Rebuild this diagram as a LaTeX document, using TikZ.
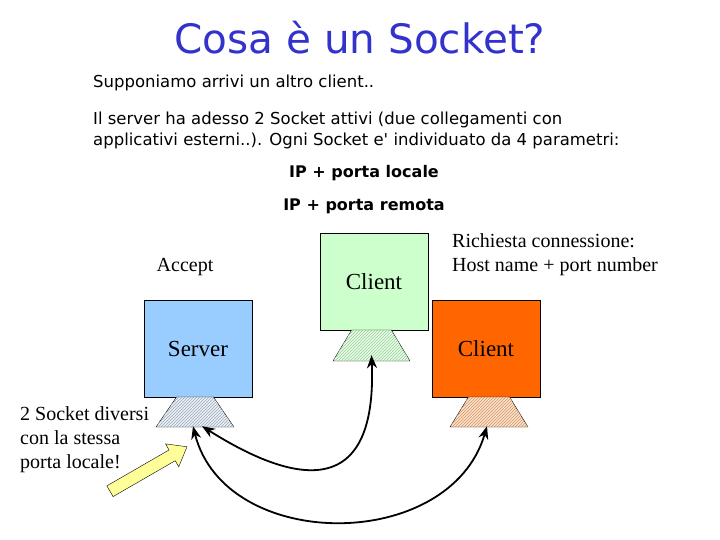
\documentclass[tikz,border=0pt]{standalone}
\usepackage{fontspec}
\setmainfont{Liberation Serif}
\newfontfamily\comicfont{DejaVu Sans}
\usetikzlibrary{arrows.meta}
\usetikzlibrary{positioning}
\usetikzlibrary{shapes.geometric}
\usetikzlibrary{shapes.arrows}
\usetikzlibrary{patterns}

\definecolor{titleblue}{RGB}{51,51,204}
\definecolor{serverblue}{RGB}{153,204,255}
\definecolor{clientgreen}{RGB}{204,255,204}
\definecolor{clientorange}{RGB}{255,102,0}
\definecolor{hintyellow}{RGB}{255,255,153}

\begin{document}
\begin{tikzpicture}[x=1pt,y=-1pt,
    host/.style={draw,rectangle,minimum width=108pt,minimum height=97pt,
                 font=\fontsize{23}{26}\selectfont},
    sock/.style={draw,trapezium,trapezium stretches=true,inner sep=2pt,
                 minimum height=30pt,minimum width=78pt},
    link/.style={line width=1.8pt,{Stealth[length=13pt,width=10pt]}-{Stealth[length=13pt,width=10pt]}}]
\useasboundingbox (0,0) rectangle (720,540);

% testi in alto
\begin{scope}[every node/.style={font=\comicfont\fontsize{16.5}{21}\selectfont,inner sep=0pt}]
    \node[font=\comicfont\fontsize{40.5}{44}\selectfont,text=titleblue] (title) at (360,38) {Cosa è un Socket?};
    \node[anchor=west]            (intro)  at (93,83)    {Supponiamo arrivi un altro client..};
    \node[anchor=west,align=left] (params) at (93,130.5) {Il server ha adesso 2 Socket attivi (due collegamenti con\\applicativi esterni..). Ogni Socket e' individuato da 4 parametri:};
    \node[font=\comicfont\bfseries\fontsize{16}{21}\selectfont] (local)  at (364,173) {IP + porta locale};
    \node[font=\comicfont\bfseries\fontsize{16}{21}\selectfont] (remote) at (364,206) {IP + porta remota};
\end{scope}

% host e socket
\node[host,fill=serverblue]   (server)     at (198,348.5) {Server};
\node[host,fill=clientgreen]  (client_old) at (374,281.5) {\raisebox{-5pt}{Client}};
\node[host,fill=clientorange] (client_new) at (486,348.5) {Client};

\node[sock,trapezium angle=61,fill=serverblue!25,
      postaction={pattern=north east lines,pattern color=gray!70}]        (srv_sock)  at (195,412) {};
\node[sock,trapezium angle=65,minimum height=31pt,minimum width=77pt,fill=clientgreen!50,
      postaction={pattern=north east lines,pattern color=green!30!gray!60}] (old_sock) at (371.5,345.5) {};
\node[sock,trapezium angle=66,fill=clientorange!20,
      postaction={pattern=north east lines,pattern color=brown!80}]        (new_sock)  at (489,412) {};

% etichette
\begin{scope}[every node/.style={font=\fontsize{20}{24}\selectfont,inner sep=0pt}]
    \node (accept) at (185,267) {Accept};
    \node[anchor=west,align=left] (request) at (452,255) {Richiesta connessione:\\Host name + port number};
    \node[anchor=west,align=left] (note) at (20,440) {2 Socket diversi\\con la stessa\\porta locale!};
\end{scope}

% freccia gialla
\node[single arrow,draw,fill=hintyellow,rotate=30,minimum height=89pt,
      inner xsep=0pt,inner ysep=6pt,single arrow head extend=7pt,
      single arrow tip angle=75] (hint) at (145,471) {};

% collegamenti
\draw[link] ([xshift=7pt,yshift=1pt]srv_sock.south) .. controls (270,469) and (378,520) .. ([yshift=6pt]old_sock.south);
\draw[link] ([xshift=-2pt,yshift=1pt]srv_sock.south) .. controls (225,553) and (450,553) .. ([xshift=-2pt,yshift=1pt]new_sock.south);
\end{tikzpicture}
\end{document}
